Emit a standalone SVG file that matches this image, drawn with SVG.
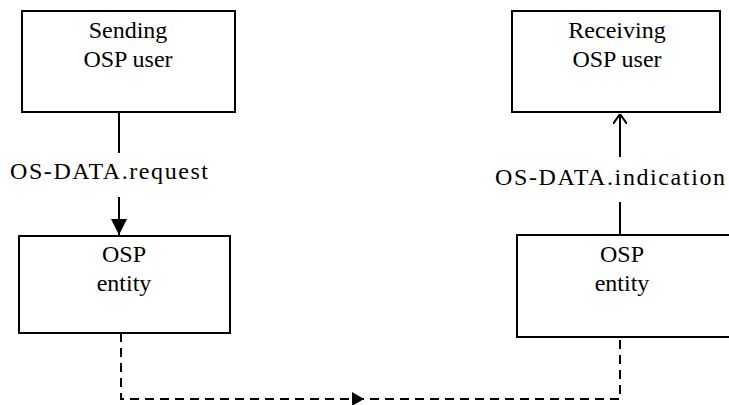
<svg xmlns="http://www.w3.org/2000/svg" width="729" height="405" viewBox="0 0 729 405">
<defs>
<marker id="fillBig" viewBox="0 0 10 10" refX="10" refY="5" markerWidth="16" markerHeight="16" markerUnits="userSpaceOnUse" orient="auto">
<path d="M0,0 L10,5 L0,10 Z" fill="#000"/>
</marker>
<marker id="open" viewBox="0 0 10 14" refX="10" refY="7" markerWidth="10" markerHeight="14" markerUnits="userSpaceOnUse" orient="auto">
<path d="M0,0 L10,7 L0,14" fill="none" stroke="#000" stroke-width="2"/>
</marker>
</defs>
<g fill="#fff" stroke="#000" stroke-width="2">
<g id="sending-user"><rect x="22" y="11" width="213" height="101"/></g>
<g id="receiving-user"><rect x="512" y="11" width="208" height="101"/></g>
<g id="sending-entity"><rect x="19" y="236" width="211" height="97"/></g>
<g id="receiving-entity"><rect x="517" y="235" width="220" height="102"/></g>
</g>
<g font-family="Liberation Serif, serif" font-size="24" fill="#000" text-anchor="middle">
<text x="128" y="38">Sending</text>
<text x="128" y="67">OSP user</text>
<text x="617" y="38">Receiving</text>
<text x="617" y="67">OSP user</text>
<text x="124" y="262">OSP</text>
<text x="124" y="291">entity</text>
<text x="622" y="262">OSP</text>
<text x="622" y="291">entity</text>
</g>
<g id="connectors" stroke="#000" stroke-width="2" fill="none">
<line x1="119" y1="112" x2="119" y2="153"/>
<line x1="119" y1="197" x2="119" y2="235" marker-end="url(#fillBig)"/>
<line x1="620" y1="235" x2="620" y2="202"/>
<line x1="620" y1="157" x2="620" y2="114" marker-end="url(#open)"/>
<path d="M121,333 V399 H620 V337" stroke-dasharray="9 6"/>
<path d="M352,392 L364,399 L352,406 Z" fill="#000" stroke="none"/>
<text x="10" y="179" font-family="Liberation Serif, serif" font-size="24" fill="#000" stroke="none" textLength="198" lengthAdjust="spacing">OS-DATA.request</text>
<text x="495" y="185" font-family="Liberation Serif, serif" font-size="24" fill="#000" stroke="none" textLength="230" lengthAdjust="spacing">OS-DATA.indication</text>
</g>
</svg>
